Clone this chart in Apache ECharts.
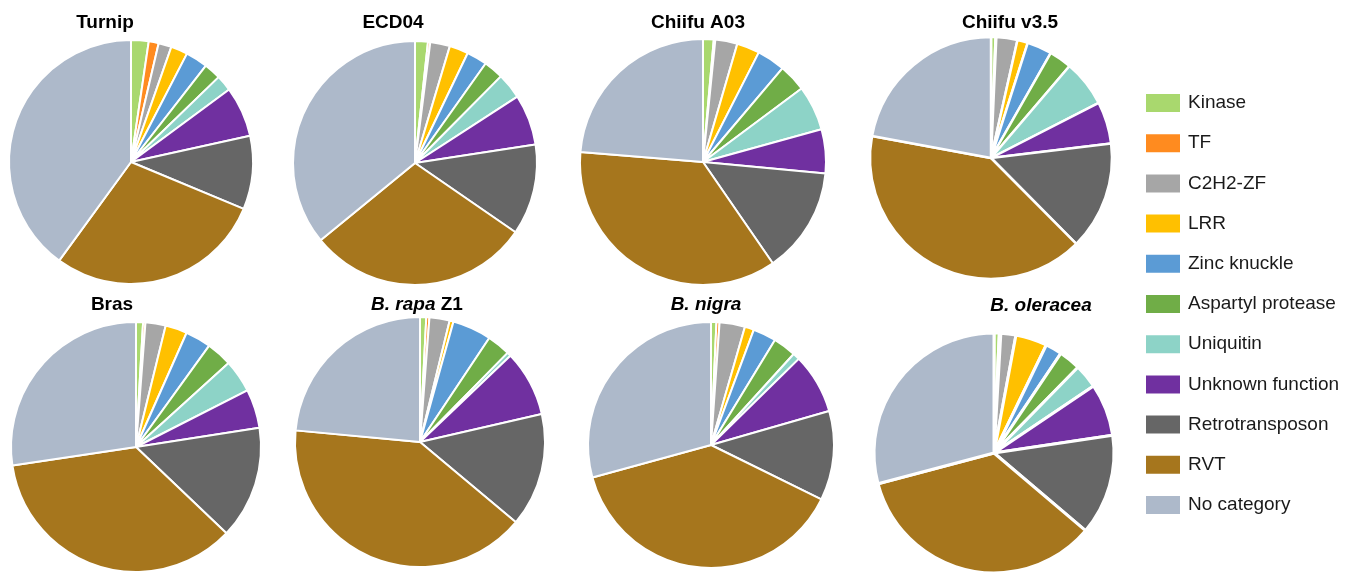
<!DOCTYPE html>
<html>
<head>
<meta charset="utf-8">
<script src="https://cdn.jsdelivr.net/npm/echarts@6/dist/echarts.min.js"></script>
<style>
  html, body { margin: 0; padding: 0; background: #fff; }
  #chart { width: 1359px; height: 572px; }
</style>
</head>
<body>
<div id="chart"></div>
<script>
// Gene annotation categories (clockwise from 12 o'clock)
const categories = ['Kinase', 'TF', 'C2H2-ZF', 'LRR', 'Zinc knuckle', 'Aspartyl protease',
  'Uniquitin', 'Unknown function', 'Retrotransposon', 'RVT', 'No category'];
const categoryColors = ['#a9d86e', '#ff8b1f', '#a6a6a6', '#ffc000', '#5b9bd5', '#70ad47',
  '#8dd3c7', '#7030a0', '#666666', '#a6761d', '#adb9ca'];

// Share of each category (%) per genome
const turnip     = [2.3, 1.3, 1.7, 2.2, 2.9, 2.2, 2.1, 6.6, 9.6, 28.4, 39.5];
const ecd04      = [1.7, 0.3, 2.6, 2.5, 2.7, 2.6, 3.4, 6.7, 12.0, 29.4, 35.8];
const chiifuA03  = [1.4, 0.2, 2.9, 3.0, 3.7, 3.6, 5.9, 5.8, 13.9, 35.9, 23.7];
const chiifuV35  = [0.6, 0.1, 2.8, 1.4, 3.3, 3.0, 6.2, 5.6, 14.4, 40.2, 22.0];
const bras       = [0.9, 0.3, 2.6, 2.8, 3.3, 3.3, 4.2, 5.0, 14.5, 35.3, 27.2];
const bRapaZ1    = [0.8, 0.4, 2.6, 0.5, 5.0, 3.0, 0.5, 8.5, 14.6, 40.2, 23.4];
const bNigra     = [0.7, 0.4, 3.3, 1.2, 3.0, 3.0, 0.9, 7.8, 11.6, 38.0, 28.9];
const bOleracea  = [0.7, 0.2, 2.0, 4.2, 2.2, 2.9, 3.2, 7.0, 13.4, 34.3, 28.8];

const genomeTitles = ['Turnip', 'ECD04', 'Chiifu A03', 'Chiifu v3.5',
  'Bras', '{i|B. rapa} Z1', '{i|B. nigra}', '{i|B. oleracea}'];
const genomeValues = [turnip, ecd04, chiifuA03, chiifuV35, bras, bRapaZ1, bNigra, bOleracea];

// Pie placement: [centerX, centerY, radius, titleCenterX, titleTop, borderWidth]
const layout = [
  [131, 162, 122, 100, 8, 2],
  [415, 163, 122, 388, 8, 2],
  [703, 162, 123, 693, 8, 2],
  [991, 158, 121, 1005, 8, 2.5],
  [136, 447, 125, 107, 290, 2],
  [420, 442, 125, 412, 290, 2],
  [711, 445, 123, 701, 290, 2],
  [994, 453, 120, 1036, 291, 3]
];

const font = '"Liberation Sans", Arial, sans-serif';

const titles = genomeTitles.map((t, i) => ({
  text: t,
  left: layout[i][3],
  top: layout[i][4],
  textAlign: 'center',
  textStyle: {
    fontFamily: font, fontSize: 19, fontWeight: 'bold', color: '#000',
    rich: { i: { fontFamily: font, fontSize: 19, fontWeight: 'bold', fontStyle: 'italic', color: '#000' } }
  }
}));

const series = genomeValues.map((vals, i) => ({
  type: 'pie',
  center: [layout[i][0], layout[i][1]],
  radius: layout[i][2],
  startAngle: 90,
  clockwise: true,
  silent: true,
  animation: false,
  label: { show: false },
  labelLine: { show: false },
  itemStyle: { borderColor: '#ffffff', borderWidth: layout[i][5] },
  data: categories.map((c, k) => ({ name: c, value: vals[k] }))
}));

const chart = echarts.init(document.getElementById('chart'), null, { renderer: 'canvas' });
chart.setOption({
  backgroundColor: '#ffffff',
  color: categoryColors,
  title: titles,
  legend: {
    data: categories,
    orient: 'vertical',
    left: 1139,
    top: 87,
    icon: 'rect',
    itemWidth: 36,
    itemHeight: 20,
    itemGap: 18.2,
    selectedMode: false,
    textStyle: { fontFamily: font, fontSize: 19, color: '#1a1a1a', padding: [0, 0, 0, 2] }
  },
  series: series
});
</script>
</body>
</html>
